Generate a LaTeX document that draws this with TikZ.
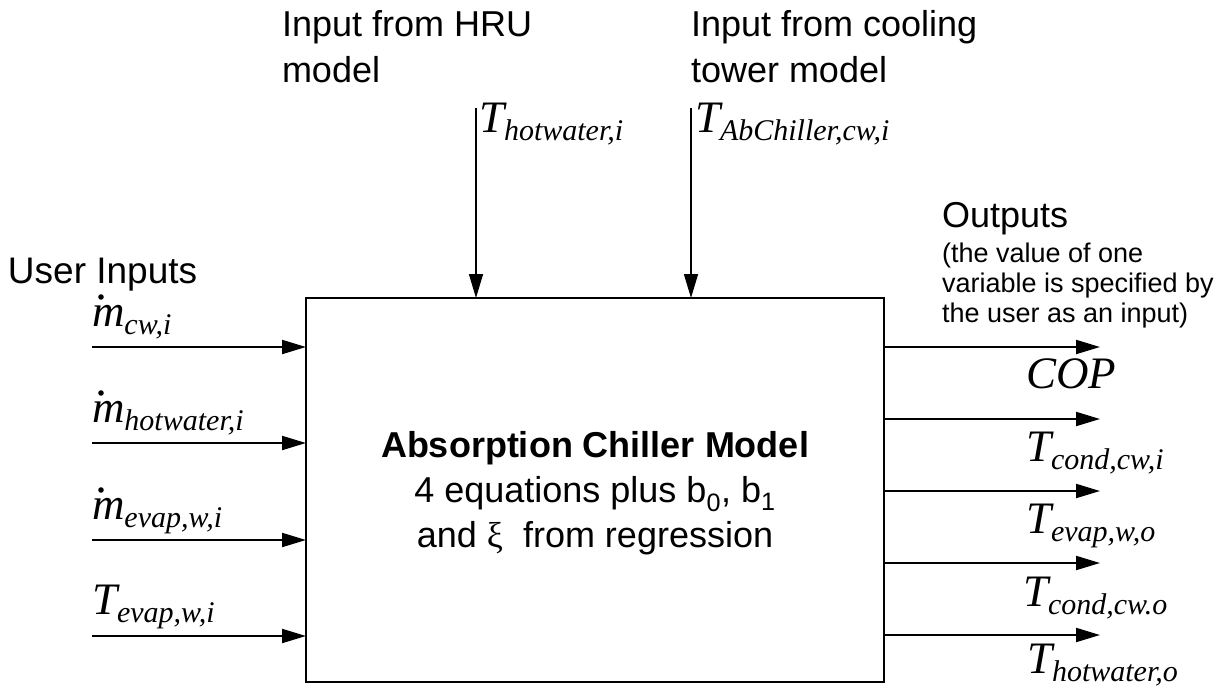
\documentclass[tikz,border=0pt]{standalone}
\usepackage{fontspec}
\setmainfont{Liberation Sans}
\newfontfamily\tnr{Liberation Serif}
\usetikzlibrary{arrows.meta}

% variable with a subscript, set in Times-like italic
\newcommand\var[2]{{\tnr\itshape\fontsize{45}{45}\selectfont #1}%
  {\raisebox{-8pt}{\tnr\itshape\fontsize{30}{30}\selectfont #2}}}

\begin{document}
\begin{tikzpicture}[x=1pt,y=-1pt,
  every node/.style={inner sep=0pt,outer sep=0pt},
  flow/.style={line width=2pt,-{Triangle[length=24pt,width=14pt]}},
  feed/.style={line width=1.4pt,-{Triangle[length=24pt,width=14pt]}},
  heading/.style={anchor=base west,font=\fontsize{36}{44}\selectfont},
  note/.style={anchor=base west,font=\fontsize{27}{30}\selectfont},
  lbl/.style={anchor=base west},
  body/.style={anchor=base,font=\fontsize{36}{44}\selectfont},
  flowdot/.style={fill=black}]
\useasboundingbox (0,0) rectangle (1220,688);

% the model block
\node[draw,line width=2pt,minimum width=578pt,minimum height=384pt] (chiller) at (595,490) {};
\node[body,font=\fontsize{36}{44}\selectfont\bfseries] (title) at (595,457) {Absorption Chiller Model};
\node[body] (line2) at (595,502) {4 equations plus b\textsubscript{0}, b\textsubscript{1}};
\node[body] (line3) at (595,547) {and {\tnr ξ}\ \ from regression};

% group headings
\node[heading,font=\fontsize{37}{44}\selectfont] (user) at (8,283) {User Inputs};
\node[heading] (hru1) at (282,36) {Input from HRU};
\node[heading] (hru2) at (282,82) {model};
\node[heading] (ct1) at (691,36) {Input from cooling};
\node[heading] (ct2) at (691,82) {tower model};
\node[heading] (outs) at (942,227) {Outputs};
\node[note] (n1) at (942,262) {(the value of one};
\node[note] (n2) at (942,292) {variable is specified by};
\node[note] (n3) at (942,322) {the user as an input)};

% user inputs on the left
\coordinate (in1) at (92,347);
\coordinate (in2) at (92,443);
\coordinate (in3) at (92,540);
\coordinate (in4) at (92,636);
\foreach \c in {in1,in2,in3,in4}
  \draw[flow] (\c) -- (\c -| chiller.west);
\node[lbl] (min1) at (92,326) {\var{m}{cw,i}};
\node[lbl] (min2) at (92,422) {\var{m}{hotwater,i}};
\node[lbl] (min3) at (92,519) {\var{m}{evap,w,i}};
\node[lbl] (tin4) at (92,614) {\var{T}{evap,w,i}};
% time-derivative dots over the mass flow rates
\foreach \m in {min1,min2,min3}
  \fill[flowdot] (\m.base west) ++(9,-29) circle (2.8);

% inputs from the other models at the top
\coordinate (top1) at (476,108);
\coordinate (top2) at (691,108);
\draw[feed] (top1) -- (top1 |- chiller.north);
\draw[feed] (top2) -- (top2 |- chiller.north);
\node[lbl] (thw) at (479,132) {\var{T}{hotwater,i}};
\node[lbl] (tab) at (695,132) {\var{T}{AbChiller,cw,i}};

% outputs on the right
\coordinate (out1) at (1100,347);
\coordinate (out2) at (1100,419);
\coordinate (out3) at (1100,491);
\coordinate (out4) at (1100,563);
\coordinate (out5) at (1100,635);
\foreach \c in {out1,out2,out3,out4,out5}
  \draw[flow] (chiller.east |- \c) -- (\c);
\node[lbl] (cop) at (1026,388) {\tnr\itshape\fontsize{45}{45}\selectfont COP};
\node[lbl] (o2) at (1026,461) {\var{T}{cond,cw,i}};
\node[lbl] (o3) at (1026,533) {\var{T}{evap,w,o}};
\node[lbl] (o4) at (1023,606) {\var{T}{cond,cw.o}};
\node[lbl] (o5) at (1027,673) {\var{T}{hotwater,o}};
\end{tikzpicture}
\end{document}
